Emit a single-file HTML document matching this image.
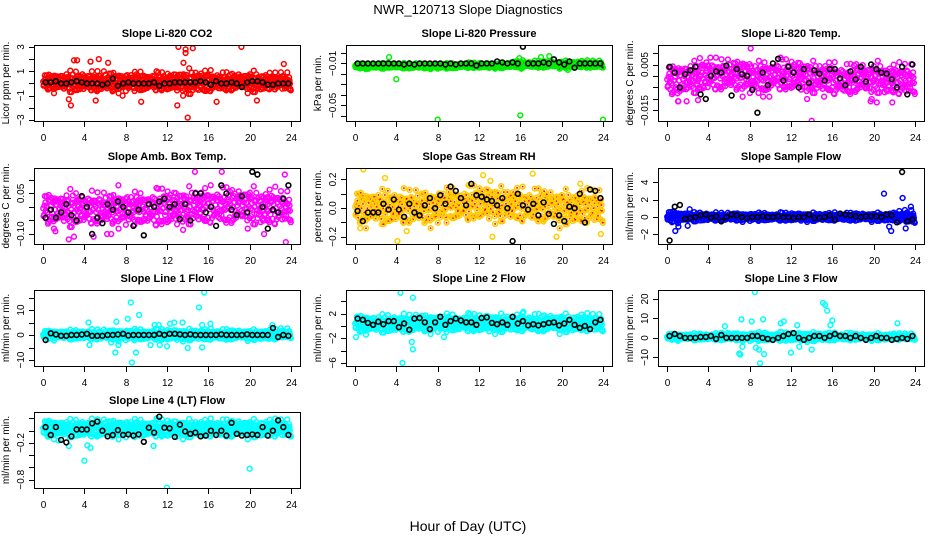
<!DOCTYPE html>
<html><head><meta charset="utf-8"><title>NWR_120713 Slope Diagnostics</title>
<style>
html,body{margin:0;padding:0;background:#fff;}
svg{display:block;font-family:"Liberation Sans",sans-serif;}
</style></head>
<body>
<svg id="chart" width="936" height="540" viewBox="0 0 936 540" xmlns="http://www.w3.org/2000/svg">
<rect width="936" height="540" fill="#fff"/>
<text x="468" y="14" text-anchor="middle" font-size="13">NWR_120713  Slope Diagnostics</text>
<text x="468" y="531" text-anchor="middle" font-size="14">Hour of Day (UTC)</text>
</svg>
<script>
// ---- shared
const xTicks = [0,4,8,12,16,20,24];
const jitter = [0.1,-0.7,0.5,-0.2,0.9,-0.9,0.3,-0.4,0.7,0,-0.6,0.4,-1,0.8,-0.3,0.2,-0.8,0.6,-0.1,1,-0.5,0.35,-0.15,0.55];

// ---- CO2
const co2Center = [0.1,0.1,0.1,0.1,0.1,0.1,0.1,0.1,0.1,0.1,0.1,0.1,0.1,0.1,0.1,0.1,0.1,0.1,0.1,0.1,0.1,0.1,0.1,0.1];
const co2Spread = [0.8,0.9,1.0,1.0,0.9,1.0,1.0,0.9,0.9,1.0,0.9,0.9,0.9,1.1,1.2,1.1,1.0,0.9,0.9,0.9,1.0,0.9,0.8,0.9];
const co2Black = [0.1,0.1,0.2,0,0,0.1,0.2,0.1,0,0,0,-0.1,0,0.4,-0.2,0,0.1,0,0,0,0,0.1,-0.2,0,0,0.1,0.1,0.1,0.1,0.1,0.2,0.1,-0.1,0.2,0,0,0.1,0,-0.3,0.1,0.2,0.2,0.1,-0.1,-0.1,0,0,0];
const co2OutT = [2.7,2.5,3,3.3,5.4,7.7,9.5,13.1,13.8,14.5,13.8,14,13,19.2,20.7,5.1,16.8,23.3,13.6,4.6,6.3];
const co2OutV = [-1.8,-1.3,1.9,1.9,2,-1,-1.5,3,2.8,2.9,2.5,-2.8,-1.8,3,-1.4,-1.4,-1.5,1.6,1.7,1.8,1.7];

// ---- Pressure
const prCenter = [-0.0125,-0.0125,-0.0125,-0.012,-0.0125,-0.0125,-0.0125,-0.0125,-0.0125,-0.0125,-0.012,-0.012,-0.012,-0.012,-0.012,-0.011,-0.011,-0.011,-0.011,-0.011,-0.011,-0.011,-0.011,-0.011];
const prSpread = [0.003,0.003,0.003,0.003,0.003,0.003,0.003,0.003,0.003,0.003,0.003,0.003,0.003,0.003,0.003,0.004,0.004,0.004,0.004,0.004,0.004,0.004,0.004,0.004];
const prBlack = [-0.01,-0.01,-0.01,-0.01,-0.01,-0.01,-0.01,-0.01,-0.01,-0.011,-0.01,-0.011,-0.01,-0.01,-0.01,-0.01,-0.01,-0.011,-0.01,-0.011,-0.01,-0.01,-0.01,-0.012,-0.01,-0.01,-0.01,-0.008,-0.009,-0.01,-0.009,-0.01,0.006,-0.01,-0.01,-0.01,-0.009,-0.01,-0.006,-0.009,-0.011,-0.008,-0.014,-0.01,-0.01,-0.01,-0.01,-0.01];
const prOutT = [8,16,24,4,1.3,3.3,18.8,15.9,16.1,20.6,22.8,7,18];
const prOutV = [-0.0635,-0.0595,-0.0635,-0.025,-0.015,-0.004,-0.003,-0.005,-0.015,-0.016,-0.014,-0.014,-0.004];

// ---- Li-820 Temp
const tpCenter = [-0.002,-0.002,-0.001,0,0,0,0,0,-0.001,-0.001,0,0,0,-0.001,-0.001,-0.001,-0.002,-0.002,-0.001,-0.002,-0.001,-0.002,-0.002,-0.002];
const tpSpread = [0.008,0.009,0.008,0.009,0.008,0.008,0.008,0.009,0.008,0.008,0.008,0.008,0.008,0.009,0.008,0.008,0.008,0.008,0.008,0.008,0.008,0.008,0.008,0.008];
const tpBlack = [0.004,0.0015,-0.005,0.0008,0.0025,0.004,-0.008,-0.01,0,0.002,0.0015,0.0045,-0.0085,0.003,0.0008,0,-0.006,-0.016,0.0015,-0.004,0.0055,0.0075,-0.002,0.004,0.0015,-0.005,0.003,-0.003,0.0025,0.001,-0.002,0.003,0.003,-0.001,-0.004,0.002,-0.0015,0.004,-0.0025,0.005,0.003,0.0015,0.001,-0.0015,-0.005,0.004,-0.008,0.005];
const tpOutT = [1.1,1.9,3,8.1,9.3,14,15.2,19.7,20.3,21.8,4.2,9.9];
const tpOutV = [-0.011,-0.011,-0.0105,0.012,-0.009,-0.0195,-0.009,-0.011,-0.0115,-0.0115,0.008,-0.009];

// ---- Amb Box Temp
const abCenter = [-0.01,-0.01,-0.01,-0.01,-0.01,-0.01,-0.01,-0.01,-0.01,-0.01,-0.01,-0.005,-0.005,-0.005,0,0,0,0,0,0,0,-0.005,-0.005,-0.005];
const abSpread = [0.07,0.07,0.08,0.07,0.07,0.07,0.07,0.07,0.07,0.07,0.08,0.08,0.08,0.08,0.08,0.08,0.08,0.08,0.08,0.08,0.08,0.08,0.08,0.07];
const abBlack = [-0.04,-0.01,-0.04,-0.02,0.01,-0.03,-0.05,0.04,0,-0.1,-0.04,-0.06,0.01,-0.01,0.02,0,-0.02,-0.07,-0.01,-0.105,0.01,0,0.02,0.03,0,0.01,-0.045,0.01,-0.05,0.05,0.05,-0.02,0,-0.07,0.08,0.05,-0.01,-0.03,0.04,-0.02,0.13,0.12,0,-0.08,-0.01,-0.02,0.03,0.08];
const abOutT = [1.2,2.5,3.0,4.9,6.2,6.6,14.7,17.3,21.4,23.4,23.5,7.3];
const abOutV = [-0.09,-0.12,-0.11,-0.11,-0.1,-0.1,0.13,0.13,-0.1,0.12,-0.13,0.08];

// ---- Gas Stream RH
const rhCenter = [0,0,0,0,0,0,0,0,0.01,0.02,0.02,0.03,0.03,0.03,0.02,0.02,0.01,0.01,0.01,0,0,0,0,0];
const rhSpread = [0.14,0.14,0.14,0.14,0.14,0.14,0.14,0.14,0.14,0.14,0.14,0.14,0.14,0.14,0.14,0.14,0.14,0.14,0.14,0.14,0.14,0.14,0.14,0.14];
const rhBlack = [-0.02,-0.09,-0.03,-0.03,-0.03,0.03,-0.01,0.06,-0.01,-0.06,0.03,-0.03,-0.05,0.02,0.07,0,0.09,0.03,0.15,0.12,0.07,0.02,0.17,0.09,0.08,0.06,0.05,0.02,0.07,0,-0.23,0.1,0.02,-0.01,0.03,-0.05,0.04,-0.04,-0.11,-0.05,-0.09,0.01,0,0.1,-0.1,0.13,0.12,0.07];
const rhOutT = [0.8,2.9,4.1,0.5,5.0,12.4,13.1,17.2,19.5,21.8,23.8,13.3];
const rhOutV = [0.27,0.21,-0.23,-0.14,-0.16,0.23,0.19,0.24,-0.2,0.17,-0.18,-0.2];

// ---- Sample Flow
const sfCenter = [0,0,0,0,0,0,0,0,0,0,0,0,0,0,0,0,0,0,0,0,0,0,0,0];
const sfSpread = [0.8,0.7,0.6,0.6,0.55,0.55,0.55,0.55,0.55,0.55,0.55,0.55,0.55,0.55,0.55,0.55,0.55,0.55,0.55,0.55,0.55,0.6,0.7,0.9];
const sfBlack = [-2.7,1.2,1.4,-0.2,-0.1,0,0.2,0.3,-0.1,0.1,-0.5,0,0.3,0.2,0,-0.1,0,0,0.1,0,0,0.1,0,0,-0.1,0,0,0.3,-0.1,-0.1,0,0.2,-0.3,0.4,0.3,0.2,0.1,0,0.1,0.1,0.1,0,0.3,0.2,-0.6,5.2,-0.5,-0.3];
const sfOutT = [0.8,1.1,2.2,21,22.8,21.7,21.5,23.1,23.6,2.0];
const sfOutV = [-1.6,-1.1,0.9,2.7,2.2,-1.6,-1.1,-1.3,1.2,-1.0];

// ---- Line 1 Flow
const l1Center = [0,0,0,0,0,0,0,0,0,0,0,0,0,0,0,0,0,0,0,0,0,0,0,0.5];
const l1Spread = [2.2,2.2,2.2,2.2,2.4,2.4,2.4,2.6,2.6,2.6,2.6,2.6,2.6,2.6,2.6,2.6,2.6,2.6,2.4,2.4,2.4,2.4,2.4,2.4];
const l1Black = [-2,0.7,0.2,-0.3,-0.3,0,0,0.2,0.5,-0.3,-0.3,-0.3,0,0,0.2,0.5,-0.2,0,0,0,0,0,0.5,0,0.5,0.5,0.3,0,0.3,0,0,0,0,0,0.3,0,0,0,0,0.3,0,0,0,0,2.8,-0.8,0,-0.3];
const l1OutT = [15.6,8.5,15.1,9.3,8.2,7.1,4.4,10.8,11.2,12.3,13.5,16.2,15.4,22.2,8.6,7.0,9.0,14.0,15.4,4.5,7.3,12.0,10.4,11.3,6.6,12.7];
const l1OutV = [17,13,11,8,6.5,5.3,5,4,4,4.5,5,4.5,4,4,-11,-7,-7,-5.2,-5,-4,-4,-4.5,-4,-4,-3,5];

// ---- Line 2 Flow
const l2Center = [0.3,0.3,0.3,0.3,0.3,0.3,0.4,0.4,0.4,0.4,0.4,0.4,0.4,0.4,0.4,0.4,0.4,0.4,0.4,0.4,0.4,0.4,0.4,0.4];
const l2Spread = [1.7,1.7,1.7,1.7,1.7,1.7,1.7,1.7,1.7,1.7,1.7,1.7,1.7,1.7,1.7,1.7,1.7,1.7,1.7,1.7,1.7,1.7,1.7,1.7];
const l2Black = [1.2,1.0,0.5,0.2,0.7,0.3,0.8,0.8,-0.2,0.4,-0.6,1.2,1.3,0.6,-0.5,0.6,1.5,0.2,0.8,1.2,0.9,0.6,0.6,0.2,1.3,1.4,0.5,0.3,0.6,0.2,1.5,0.4,0.8,0.1,0.3,0.1,0.3,0.5,0.6,0.1,0.4,1.0,0.2,-0.3,0,-0.5,0.6,1.0];
const l2OutT = [4.4,5.6,4.6,5.6,5.5,16.3,0.1,8.6];
const l2OutV = [5.4,4.6,-6,-3.8,-2.6,2.3,-1.8,-1.8];

// ---- Line 3 Flow
const l3Center = [0.5,0.5,0.5,0.5,0.5,0.5,0.5,0.5,0.5,0.5,0.5,0.5,0.5,0.5,0.5,0.5,0.5,0.5,0.5,0.5,0.5,0.5,0.5,0.5];
const l3Spread = [2,2,2,2,2,2.3,2.3,2.3,2.6,2.6,2.6,2.6,2.6,2.6,2.6,2.6,2.3,2.3,2,2,2,2,2,2];
const l3Black = [1,2,1,0,0,0,0.5,0.5,1,-0.5,1.5,0,0,0,0,0,1,1,0,-0.5,-1,0,1,2,2.5,0,-1,0,1,1,0,1,2,1,1,0,1,0,-1,0,1,0,0,-1,-0.5,0,-0.5,1];
const l3OutT = [8.5,15.1,15.3,15.5,8.2,9.3,7.2,5.6,11.0,11.3,12.6,16.0,15.8,22.3,9.0,7.0,7.1,9.4,12.0,8.6,8.9,14.0,7.3,12.8];
const l3OutV = [23.5,18,17,14,8.5,9.5,9.5,6,7.5,8.5,6.5,9,6.5,7.5,-13,-8,-8.5,-8.3,-7.5,-5,-6,-6,-4.5,-4.5];

// ---- Line 4 Flow
const l4Center = [0.03,0.03,0.03,0.03,0.03,0.03,0.03,0.03,0.03,0.03,0.03,0.03,0.03,0.03,0.03,0.03,0.03,0.03,0.03,0.03,0.03,0.03,0.03,0.03];
const l4Spread = [0.17,0.17,0.17,0.17,0.17,0.17,0.17,0.17,0.17,0.17,0.17,0.17,0.17,0.17,0.17,0.17,0.17,0.17,0.17,0.17,0.17,0.17,0.17,0.17];
const l4Black = [0.06,-0.07,0.06,-0.15,-0.19,-0.09,0.02,0.02,0.02,0.12,0.15,0,-0.09,-0.07,0.01,-0.07,-0.06,-0.08,-0.06,-0.18,0.05,-0.03,0.23,0.05,0.04,-0.1,0.1,-0.01,-0.05,-0.03,-0.09,-0.08,0,-0.07,0,-0.08,0.13,-0.05,-0.08,-0.07,-0.06,-0.07,0.06,-0.08,0,0.17,0.06,-0.07];
const l4OutT = [4,12,20,4.3,2.5,4.6,10.7,1.5];
const l4OutV = [-0.49,-0.93,-0.62,-0.24,-0.25,-0.28,-0.25,-0.16];

// ---- Panel definitions
const panels = [
 {name:'co2',title:'Slope Li-820 CO2',ylab:'Licor ppm per min.',col:0,row:0,lim:[-3.08,3.16],ticks:[-3,-2,-1,0,1,2,3],labels:[-3,-1,1,3],fmt:v=>String(v),color:'#ff0000',inner:null,c:co2Center,s:co2Spread,b:co2Black,ot:co2OutT,ov:co2OutV},
 {name:'pressure',title:'Slope Li-820 Pressure',ylab:'kPa per min.',col:1,row:0,lim:[-0.0648,0.0076],ticks:[0,-0.01,-0.02,-0.03,-0.04,-0.05,-0.06],labels:[-0.01,-0.05],fmt:v=>v.toFixed(2),color:'#00ee00',inner:'#000',c:prCenter,s:prSpread,b:prBlack,ot:prOutT,ov:prOutV},
 {name:'li820-temp',title:'Slope Li-820 Temp.',ylab:'degrees C per min.',col:2,row:0,lim:[-0.0196,0.0135],ticks:[0.01,0.005,0,-0.005,-0.01,-0.015],labels:[0.005,-0.015],fmt:v=>v.toFixed(3),color:'#ff00ff',inner:null,c:tpCenter,s:tpSpread,b:tpBlack,ot:tpOutT,ov:tpOutV},
 {name:'amb-box-temp',title:'Slope Amb. Box Temp.',ylab:'degrees C per min.',col:0,row:1,lim:[-0.137,0.144],ticks:[0.1,0.05,0,-0.05,-0.1],labels:[0.05,-0.1],fmt:v=>v.toFixed(2),color:'#ff00ff',inner:null,c:abCenter,s:abSpread,b:abBlack,ot:abOutT,ov:abOutV},
 {name:'gas-stream-rh',title:'Slope Gas Stream RH',ylab:'percent per min.',col:1,row:1,lim:[-0.25,0.28],ticks:[0.2,0.1,0,-0.1,-0.2],labels:[0.2,0,-0.2],fmt:v=>v.toFixed(1),color:'#ffcc00',inner:'#ff0000',c:rhCenter,s:rhSpread,b:rhBlack,ot:rhOutT,ov:rhOutV},
 {name:'sample-flow',title:'Slope Sample Flow',ylab:'ml/min per min.',col:2,row:1,lim:[-3.1,5.66],ticks:[-2,0,2,4],labels:[-2,0,2,4],fmt:v=>String(v),color:'#0000ff',inner:null,c:sfCenter,s:sfSpread,b:sfBlack,ot:sfOutT,ov:sfOutV},
 {name:'line1-flow',title:'Slope Line 1 Flow',ylab:'ml/min per min.',col:0,row:2,lim:[-12.4,18],ticks:[15,10,5,0,-5,-10],labels:[10,0,-10],fmt:v=>String(v),color:'#00ffff',inner:null,c:l1Center,s:l1Spread,b:l1Black,ot:l1OutT,ov:l1OutV},
 {name:'line2-flow',title:'Slope Line 2 Flow',ylab:'ml/min per min.',col:1,row:2,lim:[-6.5,5.85],ticks:[4,2,0,-2,-4,-6],labels:[2,-2,-6],fmt:v=>String(v),color:'#00ffff',inner:null,c:l2Center,s:l2Spread,b:l2Black,ot:l2OutT,ov:l2OutV},
 {name:'line3-flow',title:'Slope Line 3 Flow',ylab:'ml/min per min.',col:2,row:2,lim:[-14.4,24.6],ticks:[20,10,0,-10],labels:[20,10,0,-10],fmt:v=>String(v),color:'#00ffff',inner:null,c:l3Center,s:l3Spread,b:l3Black,ot:l3OutT,ov:l3OutV},
 {name:'line4-flow',title:'Slope Line 4 (LT) Flow',ylab:'ml/min per min.',col:0,row:3,lim:[-0.935,0.306],ticks:[0.2,0,-0.2,-0.4,-0.6,-0.8],labels:[-0.2,-0.8],fmt:v=>v.toFixed(1),color:'#00ffff',inner:null,c:l4Center,s:l4Spread,b:l4Black,ot:l4OutT,ov:l4OutV}
];

const colX = [34,346,658], boxW = 266;
const rowY = [45,168,290,412], boxH = 76;
const NS = 'http://www.w3.org/2000/svg';
const svg = document.getElementById('chart');
function mk(tag, attrs, parent){const e=document.createElementNS(NS,tag);for(const k in attrs)e.setAttribute(k,attrs[k]);(parent||svg).appendChild(e);return e;}
function minus(s){return s.replace('-','\u2212');}

panels.forEach(p=>{
  const x0=colX[p.col], y0=rowY[p.row];
  const g=mk('g',{});
  
  
  const xs=t=>x0+9+t*(248/24);
  const ys=v=>y0+boxH-(v-p.lim[0])/(p.lim[1]-p.lim[0])*boxH;
  const clip=mk('clipPath',{id:'clip-'+p.name},g);
  mk('rect',{x:x0,y:y0,width:boxW,height:boxH},clip);
  const pts=mk('g',{'clip-path':'url(#clip-'+p.name+')'},g);
  
  
  // cloud
  for(let h=0;h<24;h++){
    for(let k=0;k<24;k++){
      const t=h+(k+0.5)/24;
      const j=jitter[(k*7+h*5)%24]*(0.55+0.45*Math.abs(jitter[(k*5+h*11+3)%24]));
      const v=p.c[h]+p.s[h]*j;
      const cx=xs(t), cy=ys(v);
      const c=mk('circle',{cx:cx.toFixed(1),cy:cy.toFixed(1),r:2.4,fill:'none',stroke:p.color,'stroke-width':1.5},pts);
      
      
      if(p.inner){ mk('rect',{x:(cx-0.8).toFixed(1),y:(cy-0.8).toFixed(1),width:1.6,height:1.6,fill:p.inner},pts); }
    }
  }
  // outliers
  p.ot.forEach((t,i)=>{
    const c=mk('circle',{cx:xs(t).toFixed(1),cy:ys(p.ov[i]).toFixed(1),r:2.4,fill:'none',stroke:p.color,'stroke-width':1.5},pts);
    
    
  });
  // black hourly points
  p.b.forEach((v,i)=>{
    const t=(i+0.5)/2;
    const c=mk('circle',{cx:xs(t).toFixed(1),cy:ys(v).toFixed(1),r:2.4,fill:'none',stroke:'#000','stroke-width':1.6},pts);
    
    
  });
  // box
  const box=mk('rect',{x:x0+0.5,y:y0+0.5,width:boxW,height:boxH,fill:'none',stroke:'#000','stroke-width':1},g);
  
  
  // title
  const tt=mk('text',{x:x0+boxW/2,y:y0-8,'text-anchor':'middle','font-size':11,'font-weight':'bold'},g);
  tt.textContent=p.title;
  
  
  // x axis
  xTicks.forEach(t=>{
    const x=Math.round(xs(t))+0.5;
    mk('line',{x1:x,x2:x,y1:y0+boxH,y2:y0+boxH+6,stroke:'#000'},g);
    const l=mk('text',{x:x,y:y0+boxH+20,'text-anchor':'middle','font-size':10},g);
    l.textContent=String(t);
    
    
  });
  // y axis
  p.ticks.forEach(v=>{
    const y=Math.round(ys(v))+0.5;
    mk('line',{x1:x0-5,x2:x0,y1:y,y2:y,stroke:'#000'},g);
  });
  p.labels.forEach(v=>{
    const y=ys(v), x=x0-10;
    const l=mk('text',{x:x,y:y,'text-anchor':'middle','font-size':10,transform:'rotate(-90 '+x+' '+y+')'},g);
    l.textContent=minus(p.fmt(v));
    
    
  });
  const yl=x0-25, ym=y0+boxH/2;
  const lab=mk('text',{x:yl,y:ym,'text-anchor':'middle','font-size':10,transform:'rotate(-90 '+yl+' '+ym+')'},g);
  lab.textContent=p.ylab;
  
  
});
</script>
</body></html>
